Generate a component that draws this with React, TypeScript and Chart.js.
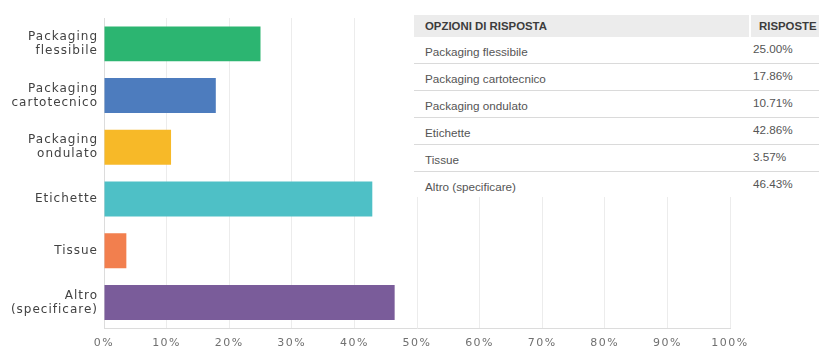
import React, { useEffect, useRef } from "react";
import { Chart, registerables } from "chart.js";

Chart.register(...registerables);

const categories: string[][] = [
  ["Packaging", "flessibile"],
  ["Packaging", "cartotecnico"],
  ["Packaging", "ondulato"],
  ["Etichette"],
  ["Tissue"],
  ["Altro", "(specificare)"],
];
const tableLabels: string[] = [
  "Packaging flessibile",
  "Packaging cartotecnico",
  "Packaging ondulato",
  "Etichette",
  "Tissue",
  "Altro (specificare)",
];
const values: number[] = [25.0, 17.86, 10.71, 42.86, 3.57, 46.43];
const barColors: string[] = ["#2cb571", "#4d7cbe", "#f7b928", "#4ec0c6", "#f27f4e", "#7a5c9a"];
const xMin = 0;
const xMax = 100;
const xStep = 10;
const tableHeaders: string[] = ["OPZIONI DI RISPOSTA", "RISPOSTE"];

export default function App() {
  const canvasRef = useRef<HTMLCanvasElement | null>(null);

  useEffect(() => {
    const canvas = canvasRef.current;
    if (!canvas) return;
    const chart = new Chart(canvas, {
      type: "bar",
      data: {
        labels: categories,
        datasets: [
          {
            data: values,
            backgroundColor: barColors,
            borderWidth: 0,
            barPercentage: 0.676,
            categoryPercentage: 1,
          },
        ],
      },
      options: {
        indexAxis: "y",
        responsive: false,
        animation: false,
        layout: { padding: { left: 0, right: 89, top: 10, bottom: 0 } },
        plugins: {
          legend: { display: false },
          tooltip: { enabled: false },
          title: { display: false },
        },
        scales: {
          x: {
            min: xMin,
            max: xMax,
            afterFit: (s: any) => {
              s.height = 22.6;
              s.paddingLeft = 0;
              s.paddingRight = 0;
            },
            grid: { color: "#ececec", drawTicks: false, lineWidth: 1 },
            border: { display: true, color: "#dcdcdc" },
            ticks: {
              stepSize: xStep,
              padding: 8,
              color: "#707070",
              font: { family: "DejaVu Sans", size: 11 },
              callback: (v: any) => v + "%",
            },
          },
          y: {
            afterFit: (s: any) => {
              s.width = 96;
              s.paddingTop = 0;
              s.paddingBottom = 0;
            },
            grid: { display: false, drawTicks: false },
            border: { display: true, color: "#dcdcdc" },
            ticks: {
              padding: 6,
              color: "#424242",
              font: { family: "DejaVu Sans", size: 12, lineHeight: 1.17 },
            },
          },
        },
      },
    });

    const patch = (scale: any, spacing: string) => {
      const orig = scale.drawLabels.bind(scale);
      scale.drawLabels = (area: any) => {
        const ctx: any = chart.ctx;
        ctx.save();
        ctx.letterSpacing = spacing;
        orig(area);
        ctx.restore();
      };
    };
    patch(chart.scales.y, "1px");
    patch(chart.scales.x, "1.5px");
    chart.draw();

    return () => chart.destroy();
  }, []);

  const tableLeft = 406;
  const tableTop = 7;
  const headerH = 22;
  const rowH = 27;
  const tableW = 408;
  const valueX = 339;

  return (
    <div style={{ position: "relative", width: 811, height: 343 }}>
      <canvas ref={canvasRef} width={811} height={343} style={{ display: "block" }} />
      <div
        style={{
          position: "absolute",
          left: tableLeft,
          top: tableTop,
          width: tableW,
          height: headerH + rowH * tableLabels.length - 2,
          background: "#ffffff",
          fontFamily: "'Liberation Sans', Arial, sans-serif",
          color: "#555555",
        }}
      >
        <div
          style={{
            position: "absolute",
            left: 0,
            top: 0,
            width: 335,
            height: headerH,
            background: "#ececec",
            fontWeight: "bold",
            fontSize: 11.4,
            lineHeight: headerH + "px",
            paddingLeft: 11,
            boxSizing: "border-box",
            color: "#3c3c3c",
          }}
        >
          {tableHeaders[0]}
        </div>
        <div
          style={{
            position: "absolute",
            left: 337,
            top: 0,
            width: 71,
            height: headerH,
            background: "#ececec",
            fontWeight: "bold",
            fontSize: 11.4,
            lineHeight: headerH + "px",
            paddingLeft: 8,
            boxSizing: "border-box",
            color: "#3c3c3c",
            whiteSpace: "nowrap",
          }}
        >
          {tableHeaders[1]}
        </div>
        {tableLabels.map((lab, i) => {
          const top = headerH + rowH * i;
          return (
            <React.Fragment key={i}>
              <div
                style={{
                  position: "absolute",
                  left: 11,
                  top: top + 7,
                  height: 15,
                  lineHeight: "15px",
                  fontSize: 11.7,
                  whiteSpace: "nowrap",
                }}
              >
                {lab}
              </div>
              <div
                style={{
                  position: "absolute",
                  left: valueX,
                  top: top + 3.5,
                  height: 15,
                  lineHeight: "15px",
                  fontSize: 11.7,
                  whiteSpace: "nowrap",
                }}
              >
                {values[i].toFixed(2) + "%"}
              </div>
              {i < tableLabels.length - 1 && (
                <div
                  style={{
                    position: "absolute",
                    left: 0,
                    top: top + rowH - 1,
                    width: tableW,
                    height: 1,
                    background: "#dadada",
                  }}
                />
              )}
            </React.Fragment>
          );
        })}
      </div>
    </div>
  );
}
